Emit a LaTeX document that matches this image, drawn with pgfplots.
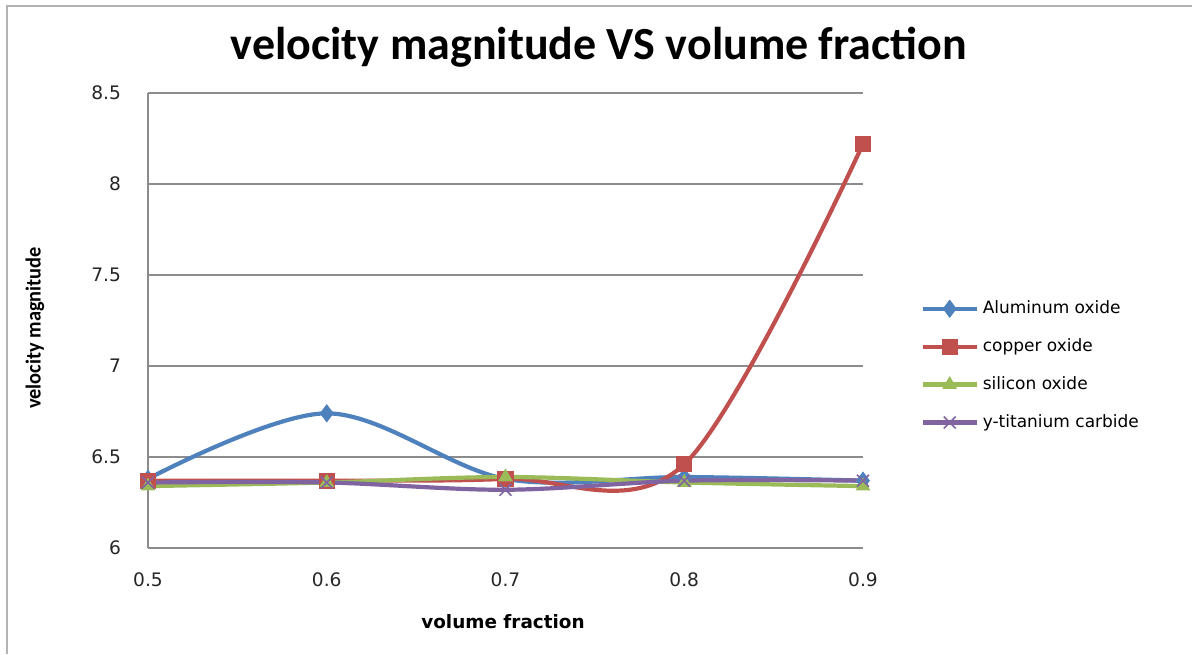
\documentclass[border=0pt]{standalone}
\usepackage{fontspec}
\usepackage{pgfplots}
\pgfplotsset{compat=1.18}
\setmainfont{DejaVu Sans}
\newfontfamily\titlefont{Carlito}
\definecolor{cBlue}{HTML}{4F81BD}
\definecolor{cRed}{HTML}{C0504D}
\definecolor{cGreen}{HTML}{9BBB59}
\definecolor{cPurple}{HTML}{8064A2}
\definecolor{gridc}{HTML}{8C8C8C}
\begin{document}
\begin{tikzpicture}
\path[use as bounding box] (0,0) rectangle (596pt,327pt);
\draw[gray!60, line width=1pt] (3.5pt,0) -- (3.5pt,324pt) -- (596pt,324pt);
\node[font=\titlefont\bfseries\fontsize{23}{27}\selectfont] at (299.5pt,303.5pt) {velocity magnitude VS volume fraction};
\node[font=\titlefont\bfseries\fontsize{10.7}{12}\selectfont, rotate=90, xscale=0.95] at (17.5pt,163pt) {velocity magnitude};
\node[font=\bfseries\fontsize{9.2}{11}\selectfont] at (251.5pt,16pt) {volume fraction};
\begin{axis}[
  at={(74pt,53pt)}, anchor=south west,
  scale only axis, width=357.5pt, height=227.5pt,
  xmin=0.5, xmax=0.9, ymin=6, ymax=8.5,
  xtick={0.5,0.6,0.7,0.8,0.9},
  ytick={6,6.5,7,7.5,8,8.5},
  xticklabels={0.5,0.6,0.7,0.8,0.9},
  yticklabels={6,6.5,7,7.5,8,8.5},
  axis x line=bottom, axis y line=left,
  axis line style={gridc, line width=0.8pt, -},
  major tick length=0pt,
  ymajorgrids, grid style={gridc, line width=0.6pt},
  tick label style={font=\fontsize{9.3}{11}\selectfont, text=black!85},
  xticklabel style={yshift=-9pt},
  yticklabel style={xshift=-10pt},
  clip=false,
  legend style={at={(1.08,0.553)}, anchor=north west, draw=none, fill=none,
    font=\fontsize{8.5}{10}\selectfont, row sep=7pt, inner sep=0pt,
    /tikz/every even column/.append style={column sep=2pt}},
  legend cell align=left,
  legend image code/.code={\draw[mark repeat=2,mark phase=2] plot coordinates {(0pt,0pt) (13.5pt,0pt) (27pt,0pt)};},
  every axis plot/.append style={line width=2.1pt, smooth, tension=0.55},
]
\addplot[cBlue, mark=diamond*, mark size=4.2pt, mark options={line width=0.5pt, solid}] coordinates {(0.5,6.38) (0.6,6.74) (0.7,6.38) (0.8,6.39) (0.9,6.37)};
\addlegendentry{Aluminum oxide}
\addplot[cRed, mark=square*, mark size=3.8pt, mark options={line width=0.5pt, solid}] coordinates {(0.5,6.37) (0.6,6.37) (0.7,6.38) (0.8,6.46) (0.9,8.22)};
\addlegendentry{copper oxide}
\addplot[cGreen, mark=triangle*, mark size=3.8pt, mark options={line width=0.5pt, solid}] coordinates {(0.5,6.34) (0.6,6.36) (0.7,6.39) (0.8,6.36) (0.9,6.34)};
\addlegendentry{silicon oxide}
\addplot[cPurple, mark=x, mark size=4.2pt, mark options={line width=0.8pt, solid}] coordinates {(0.5,6.36) (0.6,6.36) (0.7,6.32) (0.8,6.37) (0.9,6.37)};
\addlegendentry{y-titanium carbide}
\end{axis}
\end{tikzpicture}
\end{document}
